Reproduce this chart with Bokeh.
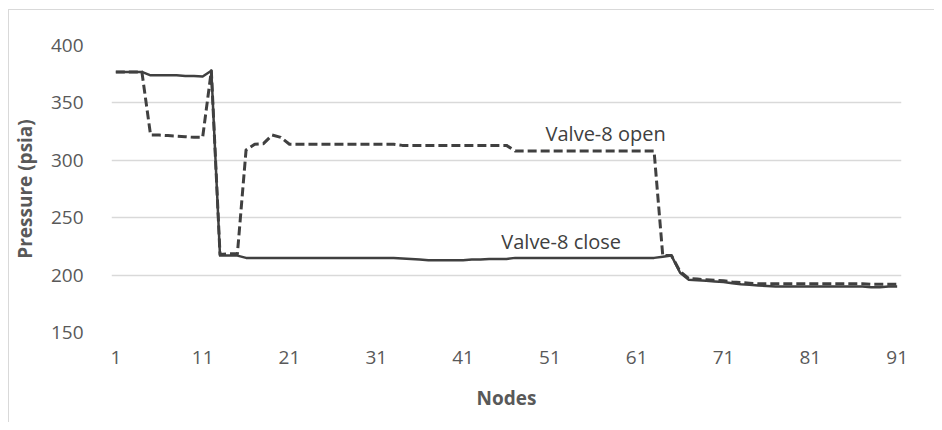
from bokeh.plotting import figure
from bokeh.models import ColumnDataSource, FixedTicker, Label, Range1d
from bokeh.embed import file_html
from bokeh.resources import INLINE

nodes = list(range(1, 92))
valve_close = [
    377, 377, 377, 377, 374, 374, 374, 374, 373.5, 373.5,
    373, 378, 217, 217, 217, 215, 215, 215, 215, 215,
    215, 215, 215, 215, 215, 215, 215, 215, 215, 215,
    215, 215, 215, 214.5, 214, 213.5, 213, 213, 213, 213,
    213, 213.5, 213.5, 214, 214, 214, 215, 215, 215, 215,
    215, 215, 215, 215, 215, 215, 215, 215, 215, 215,
    215, 215, 215, 216, 217, 202, 196, 195.5, 195, 194.5,
    194, 193, 192, 191.5, 191, 190.5, 190, 190, 190, 190,
    190, 190, 190, 190, 190, 190, 190, 189.5, 189.5, 190,
    190,
]
valve_open = [
    377, 377, 377, 377, 322, 322, 321.5, 321, 320.5, 320,
    320, 378, 218, 218.5, 218.5, 309, 314, 314.5, 322, 320,
    314, 314, 314, 314, 314, 314, 314, 314, 314, 314,
    314, 314, 314, 313, 313, 313, 313, 313, 313, 313,
    313, 313, 313, 313, 313, 313, 308, 308, 308, 308,
    308, 308, 308, 308, 308, 308, 308, 308, 308, 308,
    308, 308, 308, 217, 217, 203, 197, 196.5, 196, 195.5,
    195, 194, 193.5, 193, 192.5, 192.5, 192.5, 192.5, 192.5, 192.5,
    192.5, 192.5, 192.5, 192.5, 192.5, 192.5, 192.5, 192, 192, 192,
    192,
]
x_ticks = [1, 11, 21, 31, 41, 51, 61, 71, 81, 91]
y_ticks = [150, 200, 250, 300, 350, 400]

FONT = "Open Sans"
TXT = "#595959"
LINE = "#404040"

src = ColumnDataSource(dict(x=nodes, close=valve_close, open=valve_open))

p = figure(width=934, height=422, output_backend="svg", toolbar_location=None,
           x_range=Range1d(0.5, 91.5), y_range=Range1d(150, 400),
           min_border_left=111, min_border_right=33, min_border_top=45, min_border_bottom=90)
p.border_fill_color = None
p.background_fill_color = None
p.outline_line_color = None
p.styles = {
    "background": "linear-gradient(#d9d9d9, #d9d9d9) 8px 9px / 1px 100% no-repeat, "
                  "linear-gradient(#d9d9d9, #d9d9d9) 8px 9px / 100% 1px no-repeat",
}

p.line("x", "close", source=src, line_color=LINE, line_width=2.5, line_join="round")
p.line("x", "open", source=src, line_color=LINE, line_width=3, line_dash="9 4", line_join="round")

p.xaxis.ticker = FixedTicker(ticks=x_ticks)
p.yaxis.ticker = FixedTicker(ticks=y_ticks)
p.xgrid.grid_line_color = None
p.ygrid.grid_line_color = "#d9d9d9"
p.ygrid.grid_line_width = 1.5

for ax in (p.xaxis[0], p.yaxis[0]):
    ax.axis_line_color = None
    ax.major_tick_line_color = None
    ax.minor_tick_line_color = None
    ax.major_label_text_font = FONT
    ax.major_label_text_font_size = "19px"
    ax.major_label_text_color = TXT
    ax.axis_label_text_font = FONT
    ax.axis_label_text_font_size = "19px"
    ax.axis_label_text_font_style = "bold"
    ax.axis_label_text_color = TXT

p.xaxis.axis_label = "Nodes"
p.yaxis.axis_label = "Pressure (psia)"
p.xaxis.major_label_standoff = 12
p.yaxis.major_label_standoff = 22
p.xaxis.axis_label_standoff = 18
p.yaxis.axis_label_standoff = 10

p.add_layout(Label(x=50.5, y=323.3, text="Valve-8 open", text_font=FONT, text_font_size="20px",
                   text_color=LINE, text_baseline="middle"))
p.add_layout(Label(x=45.4, y=229, text="Valve-8 close", text_font=FONT, text_font_size="20px",
                   text_color=LINE, text_baseline="middle"))

open("out.html", "w").write(file_html(p, INLINE))
